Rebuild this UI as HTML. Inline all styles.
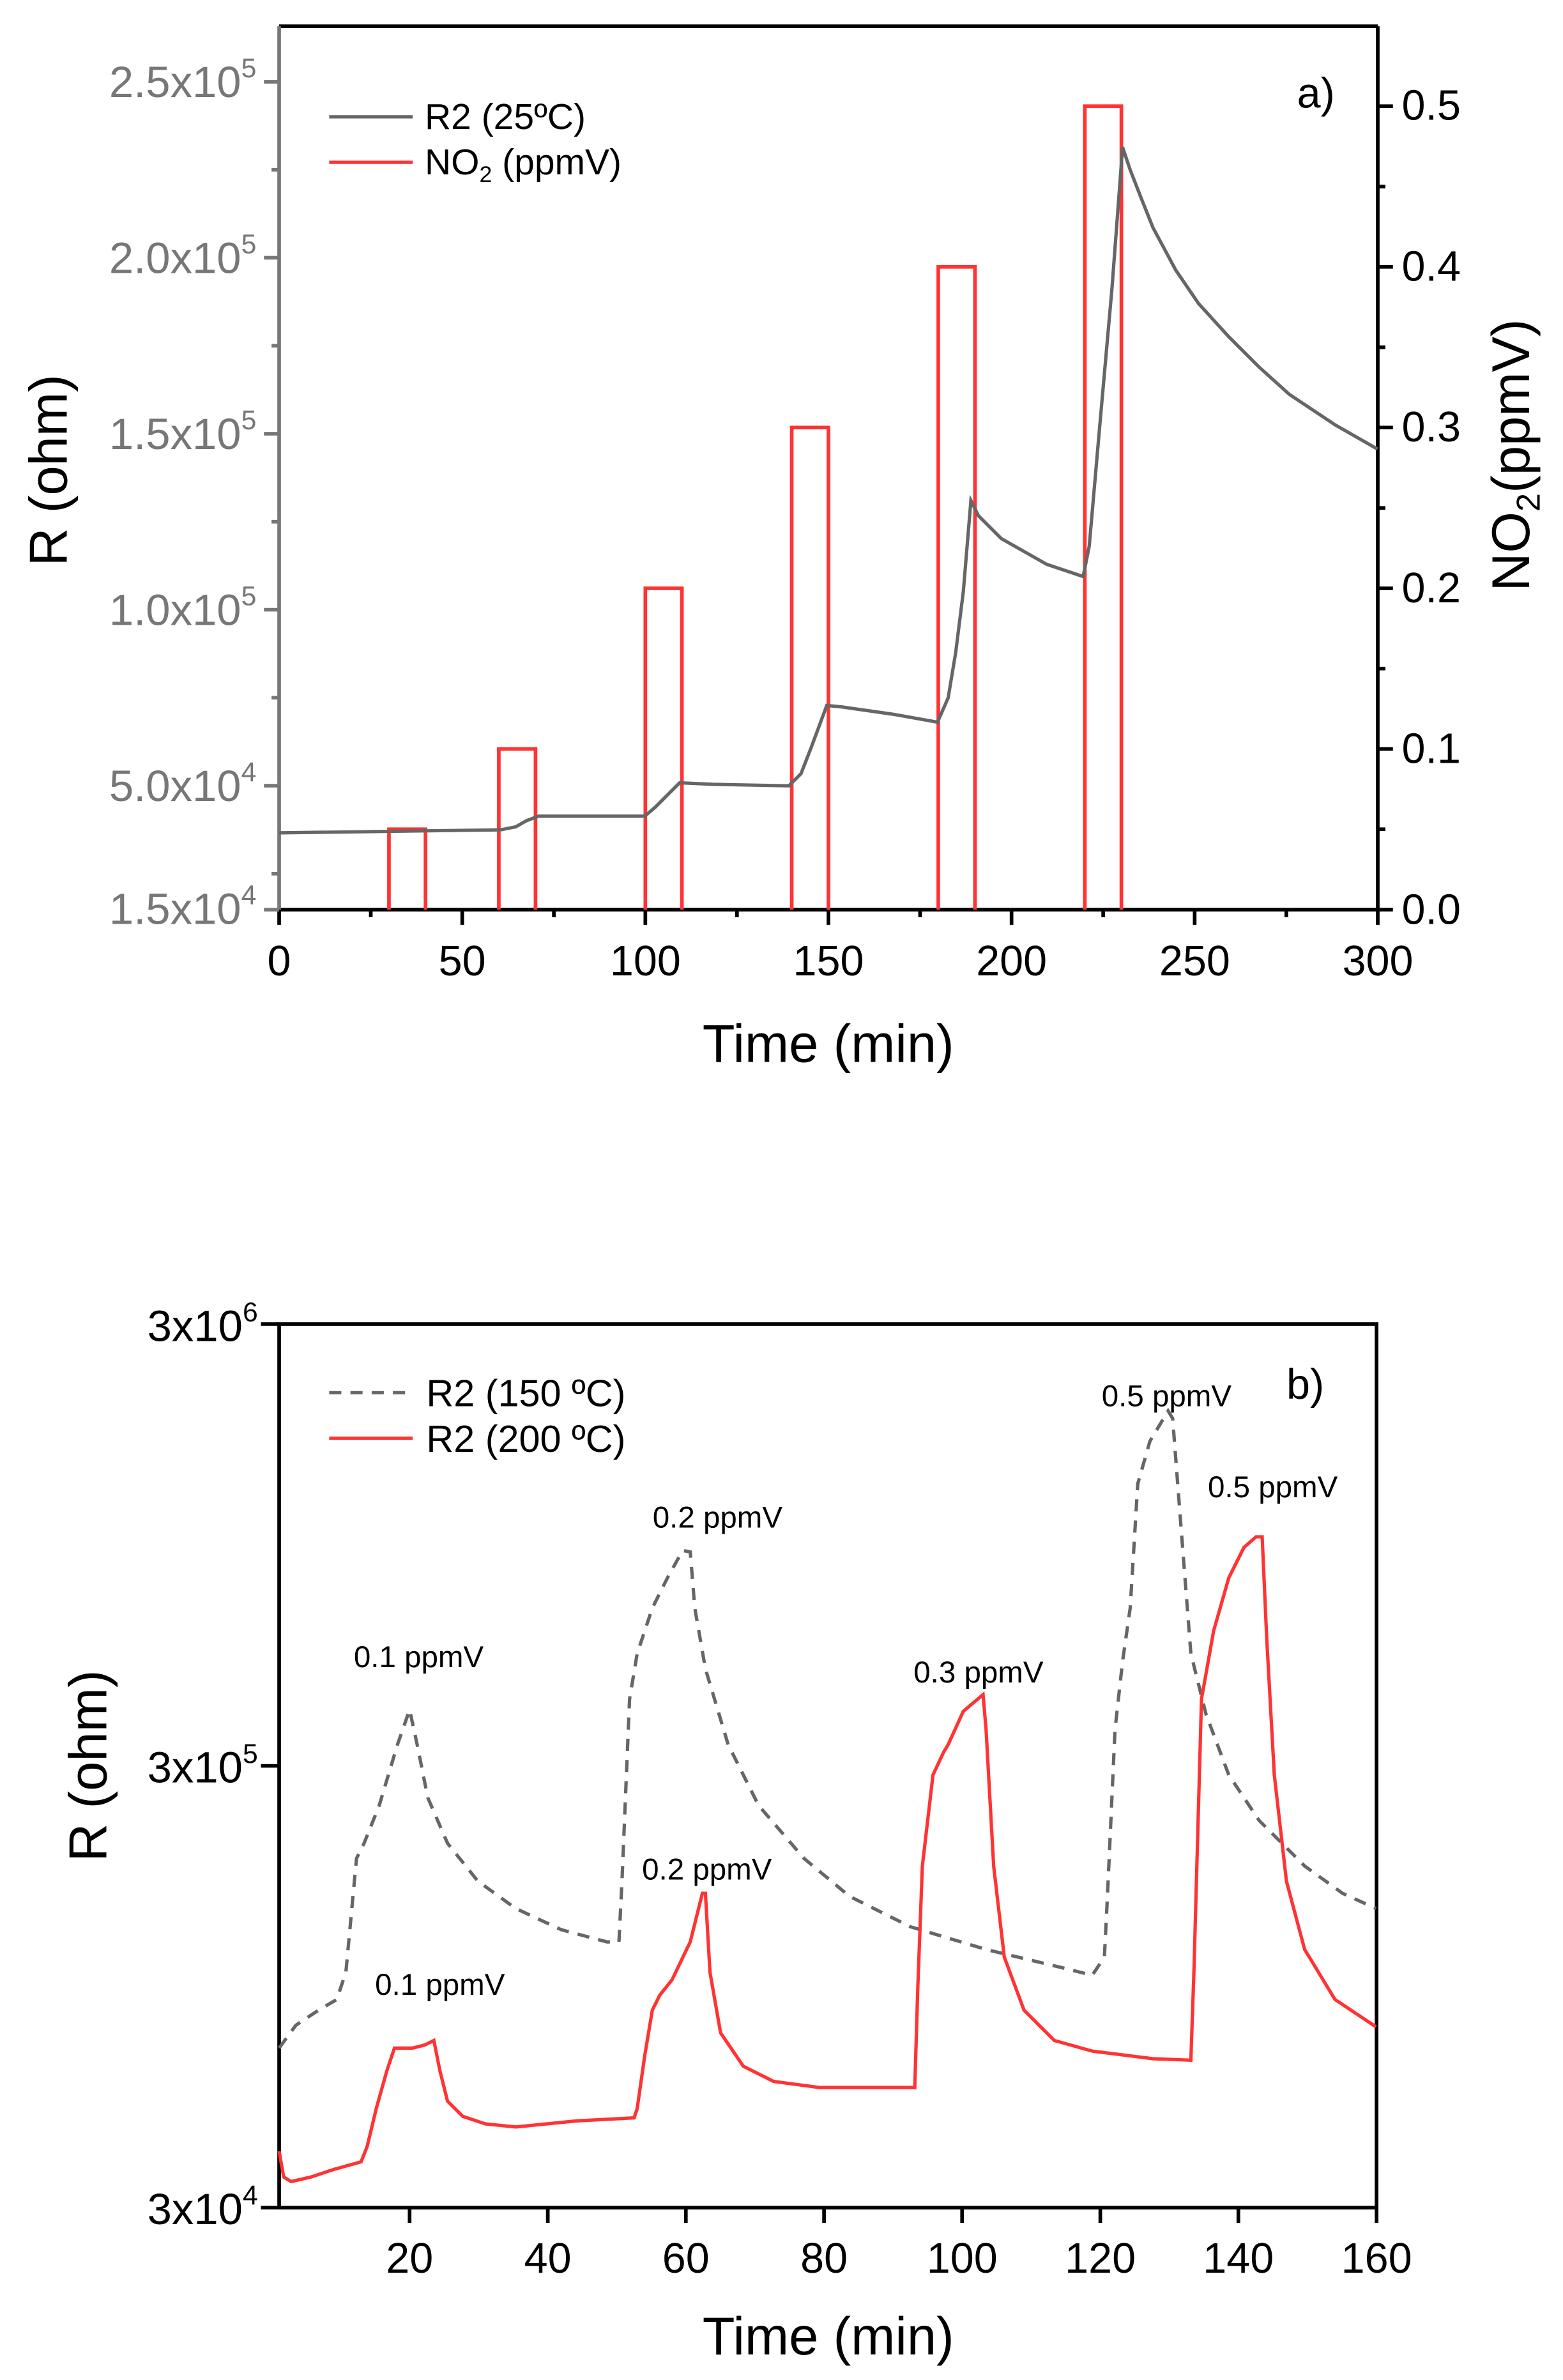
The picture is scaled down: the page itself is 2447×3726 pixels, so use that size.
<!DOCTYPE html>
<html><head><meta charset="utf-8"><style>
html,body{margin:0;padding:0;background:#fff}
svg{display:block}
text{font-family:"Liberation Sans",Arial,sans-serif}
</style></head><body>
<svg width="2447" height="3726" viewBox="0 0 1030.3 1568.8" preserveAspectRatio="none" xmlns="http://www.w3.org/2000/svg">
<rect width="1030.3" height="1568.8" fill="#fff"/>
<!-- ===== Plot a ===== -->
<g stroke-width="2.4" fill="none">
<path d="M184,17.3 H908.2 M908.2,17.3 V599.6 M184,599.6 H908.2" stroke="#000"/>
<path d="M184,17.3 V599.6" stroke="#777"/>
<path stroke="#000" d="M184,599.6v10 M304.7,599.6v10 M425.4,599.6v10 M546.1,599.6v10 M666.8,599.6v10 M787.5,599.6v10 M908.2,599.6v10
M244.4,599.6v5 M365.1,599.6v5 M485.8,599.6v5 M606.5,599.6v5 M727.2,599.6v5 M847.9,599.6v5"/>
<path stroke="#000" d="M908.2,599.6h10 M908.2,493.7h10 M908.2,387.8h10 M908.2,281.8h10 M908.2,175.9h10 M908.2,70h10
M908.2,546.6h5 M908.2,440.7h5 M908.2,334.8h5 M908.2,228.9h5 M908.2,123h5"/>
<path stroke="#777" d="M184,599.6h-10 M184,517.9h-10 M184,401.9h-10 M184,285.9h-10 M184,169.9h-10 M184,53.9h-10
M184,575.9h-5 M184,459.9h-5 M184,343.9h-5 M184,227.9h-5 M184,111.9h-5"/>
</g>
<g font-size="29" fill="#777" text-anchor="end">
<text x="169" y="609">1.5x10<tspan font-size="18" dy="-13">4</tspan></text>
<text x="169" y="528">5.0x10<tspan font-size="18" dy="-13">4</tspan></text>
<text x="169" y="412">1.0x10<tspan font-size="18" dy="-13">5</tspan></text>
<text x="169" y="296">1.5x10<tspan font-size="18" dy="-13">5</tspan></text>
<text x="169" y="180">2.0x10<tspan font-size="18" dy="-13">5</tspan></text>
<text x="169" y="64">2.5x10<tspan font-size="18" dy="-13">5</tspan></text>
</g>
<g font-size="28" fill="#000" text-anchor="start">
<text x="924" y="609">0.0</text><text x="924" y="503">0.1</text><text x="924" y="397">0.2</text>
<text x="924" y="291">0.3</text><text x="924" y="185">0.4</text><text x="924" y="79">0.5</text>
</g>
<g font-size="28" fill="#000" text-anchor="middle">
<text x="184" y="643">0</text><text x="304.7" y="643">50</text><text x="425.4" y="643">100</text>
<text x="546.1" y="643">150</text><text x="666.8" y="643">200</text><text x="787.5" y="643">250</text><text x="908.2" y="643">300</text>
<text x="546" y="700" font-size="35">Time (min)</text>
<text transform="translate(44,310) rotate(-90)" font-size="35">R (ohm)</text>
<text transform="translate(1008,300) rotate(-90)" font-size="35">NO<tspan font-size="22" dy="7">2</tspan><tspan dy="-7">(ppmV)</tspan></text>
</g>
<text x="855" y="71" font-size="28">a)</text>
<path fill="none" stroke="#ff3333" stroke-width="2.4" d="M256.4,599.6V546.6H280.5V599.6 M328.8,599.6V493.7H353V599.6 M425.4,599.6V387.8H449.5V599.6 M521.9,599.6V281.8H546.1V599.6 M618.5,599.6V175.9H642.7V599.6 M715.1,599.6V70H739.2V599.6"/>
<path fill="none" stroke="#666" stroke-width="2.2" d="M184,549 L330,547 L340,545 L347,541 L355,538 L425,538 L432,532 L440,524 L448,516 L470,517 L520,518 L528,510 L535,492 L545,465 L555,466 L590,471 L618,476 L625,460 L630,430 L635,390 L640,330 L645,340 L660,355 L690,372 L714,380 L718,360 L725,280 L733,190 L740,97 L745,112 L752,130 L760,150 L775,178 L790,200 L810,222 L830,242 L850,260 L880,280 L908,296"/>
<line x1="217" y1="77" x2="272" y2="77" stroke="#666" stroke-width="2.2"/>
<text x="280" y="85" font-size="24">R2 (25ºC)</text>
<line x1="217" y1="107" x2="272" y2="107" stroke="#ff3333" stroke-width="2.2"/>
<text x="280" y="115" font-size="24">NO<tspan font-size="15" dy="5">2</tspan><tspan dy="-5"> (ppmV)</tspan></text>

<!-- ===== Plot b ===== -->
<g stroke="#000" stroke-width="2.4" fill="none">
<rect x="184" y="872.8" width="723.4" height="582.4"/>
<path d="M184,1455.2h-12 M184,1164h-12 M184,872.8h-12
M270,1455.2v10 M361.1,1455.2v10 M452.1,1455.2v10 M543.2,1455.2v10 M634.2,1455.2v10 M725.3,1455.2v10 M816.3,1455.2v10 M907.4,1455.2v10"/>
</g>
<g font-size="29" fill="#000" text-anchor="end">
<text x="170" y="1466">3x10<tspan font-size="18" dy="-13">4</tspan></text>
<text x="170" y="1175">3x10<tspan font-size="18" dy="-13">5</tspan></text>
<text x="170" y="884">3x10<tspan font-size="18" dy="-13">6</tspan></text>
</g>
<g font-size="28" fill="#000" text-anchor="middle">
<text x="270" y="1498">20</text><text x="361.1" y="1498">40</text><text x="452.1" y="1498">60</text><text x="543.2" y="1498">80</text>
<text x="634.2" y="1498">100</text><text x="725.3" y="1498">120</text><text x="816.3" y="1498">140</text><text x="907.4" y="1498">160</text>
<text x="546" y="1552" font-size="35">Time (min)</text>
<text transform="translate(70,1164) rotate(-90)" font-size="35">R (ohm)</text>
</g>
<text x="848" y="922" font-size="28">b)</text>
<path fill="none" stroke="#666" stroke-width="2.2" stroke-dasharray="8,6" d="M184,1350 L195,1335 L210,1325 L222,1318 L228,1300 L235,1225 L240,1215 L250,1190 L262,1150 L270,1127 L275,1150 L282,1185 L295,1215 L315,1240 L340,1258 L370,1272 L400,1280 L408,1280 L410,1240 L415,1120 L420,1090 L430,1060 L440,1040 L450,1022 L455,1023 L458,1060 L465,1100 L480,1150 L500,1190 L530,1225 L560,1250 L600,1270 L650,1285 L700,1297 L720,1302 L728,1290 L730,1250 L735,1140 L740,1095 L745,1060 L750,978 L758,950 L770,930 L773,935 L778,1000 L785,1090 L795,1130 L810,1170 L830,1200 L860,1230 L885,1248 L907,1258"/>
<path fill="none" stroke="#ff3333" stroke-width="2.2" d="M184,1418 L187,1435 L192,1438 L205,1435 L220,1430 L238,1425 L242,1415 L248,1390 L255,1365 L260,1350 L265,1350 L272,1350 L280,1348 L286,1345 L290,1365 L295,1385 L305,1395 L320,1400 L340,1402 L380,1398 L418,1396 L420,1390 L425,1355 L430,1325 L435,1315 L443,1305 L455,1280 L463,1248 L465,1248 L468,1300 L475,1340 L490,1362 L510,1372 L540,1376 L603,1376 L605,1310 L608,1230 L615,1170 L622,1155 L625,1150 L635,1128 L648,1117 L650,1140 L655,1230 L662,1290 L675,1325 L695,1345 L720,1352 L760,1357 L785,1358 L787,1300 L792,1120 L800,1075 L810,1040 L820,1020 L828,1013 L832,1013 L835,1080 L840,1170 L848,1240 L860,1285 L880,1318 L907,1336"/>
<g font-size="20" text-anchor="middle" fill="#000">
<text x="276" y="1099">0.1 ppmV</text>
<text x="473" y="1007">0.2 ppmV</text>
<text x="769" y="927">0.5 ppmV</text>
<text x="839" y="987">0.5 ppmV</text>
<text x="645" y="1109">0.3 ppmV</text>
<text x="466" y="1239">0.2 ppmV</text>
<text x="290" y="1315">0.1 ppmV</text>
</g>
<line x1="217" y1="918" x2="272" y2="918" stroke="#666" stroke-width="2.2" stroke-dasharray="8,6"/>
<text x="281" y="927" font-size="25">R2 (150 ºC)</text>
<line x1="217" y1="948" x2="272" y2="948" stroke="#ff3333" stroke-width="2.2"/>
<text x="281" y="957" font-size="25">R2 (200 ºC)</text>
</svg>
</body></html>
